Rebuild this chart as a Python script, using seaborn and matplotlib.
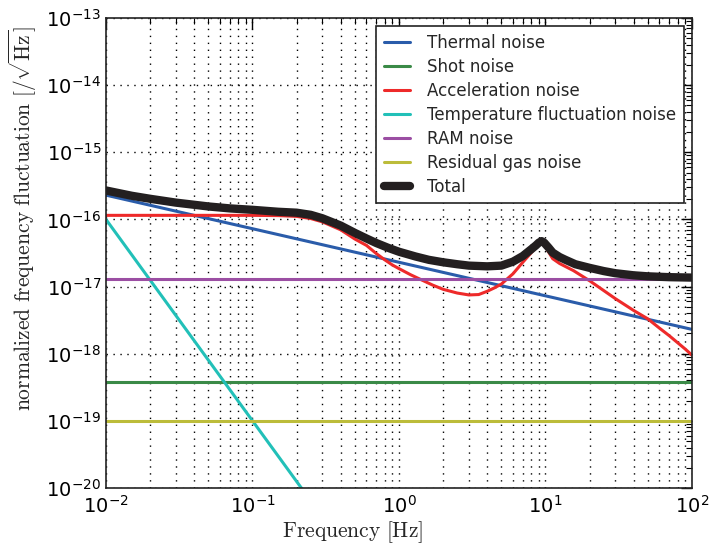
import numpy as np
import pandas as pd
import matplotlib
matplotlib.use("Agg")
import matplotlib.pyplot as plt
import seaborn as sns
from matplotlib.ticker import LogLocator, NullFormatter

# ---- data ----
thermal_f = [0.01, 100]
thermal_v = [2.3e-16, 2.3e-18]

shot_f = [0.01, 100]
shot_v = [3.8e-19, 3.8e-19]

accel_f = [0.01, 0.05, 0.1, 0.15, 0.2, 0.25, 0.3, 0.4, 0.5, 0.6, 0.7, 0.8, 0.9, 1.0,
           1.2, 1.4, 1.7, 2.0, 2.5, 3.0, 3.5, 4.0, 4.5, 5.0, 6.0, 7.0, 8.0, 9.0, 9.4,
           10.0, 11.2, 12.5, 15.5, 20, 30, 40, 50, 60, 70, 80, 90, 100]
accel_v = [1.15e-16, 1.15e-16, 1.15e-16, 1.14e-16, 1.11e-16, 1.03e-16, 9.2e-17, 7.0e-17,
           5.1e-17, 4.1e-17, 3.1e-17, 2.5e-17, 2.1e-17, 1.85e-17, 1.5e-17, 1.28e-17,
           1.05e-17, 9.1e-18, 8.0e-18, 7.5e-18, 7.6e-18, 8.5e-18, 9.6e-18, 1.09e-17,
           1.55e-17, 2.3e-17, 3.2e-17, 4.3e-17, 4.55e-17, 3.9e-17, 2.6e-17, 2.2e-17,
           1.73e-17, 1.22e-17, 6.6e-18, 4.4e-18, 3.3e-18, 2.4e-18, 1.85e-18, 1.45e-18,
           1.17e-18, 9.5e-19]

temp_f = [0.01, 0.25]
temp_v = [1.0e-16, 6.4e-21]

ram_f = [0.01, 100]
ram_v = [1.3e-17, 1.3e-17]

gas_f = [0.01, 100]
gas_v = [1.0e-19, 1.0e-19]

total_f = [0.01, 0.015, 0.02, 0.03, 0.05, 0.07, 0.1, 0.15, 0.2, 0.25, 0.3, 0.4, 0.5, 0.6,
           0.7, 0.85, 1.0, 1.3, 1.6, 2.0, 2.5, 3.0, 4.0, 5.0, 6.0, 7.0, 8.0, 8.6, 9.0,
           9.4, 9.8, 10.5, 11.2, 12.5, 13.7, 16, 20, 25, 30, 40, 50, 70, 100]
total_v = [2.7e-16, 2.25e-16, 2.03e-16, 1.78e-16, 1.56e-16, 1.46e-16, 1.39e-16, 1.3e-16,
           1.26e-16, 1.17e-16, 1.04e-16, 8.1e-17, 6.3e-17, 5.2e-17, 4.45e-17, 3.75e-17,
           3.3e-17, 2.8e-17, 2.5e-17, 2.3e-17, 2.15e-17, 2.05e-17, 2.0e-17, 2.05e-17,
           2.35e-17, 2.85e-17, 3.6e-17, 4.1e-17, 4.5e-17, 4.75e-17, 4.5e-17, 3.8e-17,
           3.2e-17, 2.75e-17, 2.5e-17, 2.15e-17, 1.9e-17, 1.7e-17, 1.58e-17, 1.47e-17,
           1.42e-17, 1.38e-17, 1.36e-17]

series = [
    ("Thermal noise", thermal_f, thermal_v, "#2a5caa", 2.2),
    ("Shot noise", shot_f, shot_v, "#3a8a47", 2.2),
    ("Acceleration noise", accel_f, accel_v, "#ee2a2a", 2.2),
    ("Temperature fluctuation noise", temp_f, temp_v, "#22c0b8", 2.2),
    ("RAM noise", ram_f, ram_v, "#9b4ea3", 2.2),
    ("Residual gas noise", gas_f, gas_v, "#bcbc3a", 2.2),
    ("Total", total_f, total_v, "#231f20", 6.0),
]

sns.set_style("white")
plt.rcParams["font.family"] = ["DejaVu Sans"]

fig = plt.figure(figsize=(7.09, 5.47), dpi=100)
ax = fig.add_axes([0.1495, 0.108, 0.8265, 0.859])

for name, f, v, c, lw in series:
    df = pd.DataFrame({"f": f, "v": v})
    sns.lineplot(data=df, x="f", y="v", ax=ax, color=c, linewidth=lw, label=name,
                 sort=False, estimator=None)

ax.set_xscale("log")
ax.set_yscale("log")
ax.set_xlim(1e-2, 1e2)
ax.set_ylim(1e-20, 1e-13)

ax.xaxis.set_major_locator(LogLocator(base=10, numticks=10))
ax.yaxis.set_major_locator(LogLocator(base=10, numticks=12))
ax.xaxis.set_minor_locator(LogLocator(base=10, subs=np.arange(2, 10), numticks=20))
ax.yaxis.set_minor_locator(LogLocator(base=10, subs=np.arange(2, 10), numticks=20))
ax.xaxis.set_minor_formatter(NullFormatter())
ax.yaxis.set_minor_formatter(NullFormatter())

grid_kw = dict(linestyle=(0, (1, 4)), color="k", linewidth=1.0)
ax.xaxis.grid(True, which="both", **grid_kw)
ax.yaxis.grid(True, which="major", **grid_kw)
ax.yaxis.grid(False, which="minor")
ax.tick_params(which="both", direction="in", top=True, right=True, colors="k",
               labelsize=14)
ax.tick_params(which="major", length=8, width=1)
ax.tick_params(which="minor", length=4, width=0.8)
ax.tick_params(axis="x", which="major", pad=5)
for s in ax.spines.values():
    s.set_color("#222222")
    s.set_linewidth(1.2)

ax.set_xlabel(r"$\mathrm{Frequency\ [Hz]}$", fontsize=15.5, math_fontfamily="cm")
ax.set_ylabel(r"$\mathrm{normalized\ frequency\ fluctuation\ [/\sqrt{Hz}]}$",
              fontsize=15.5, math_fontfamily="cm")
ax.xaxis.set_label_coords(0.42, -0.066)
ax.yaxis.set_label_coords(-0.114, 0.574)

leg = ax.legend(loc="upper right", fontsize=12, frameon=True, fancybox=False,
                edgecolor="#222222", framealpha=1, handlelength=1.6,
                handletextpad=1.0, borderaxespad=0.5, labelspacing=0.36,
                borderpad=0.45)
leg.get_frame().set_linewidth(1.2)

fig.savefig("out.png", dpi=100)
